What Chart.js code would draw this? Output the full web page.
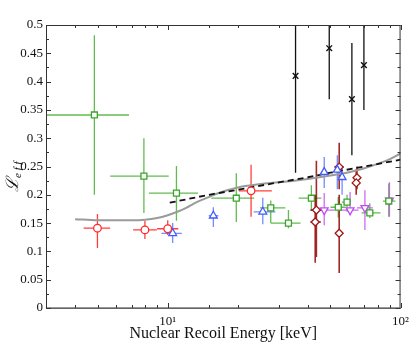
<!DOCTYPE html>
<html>
<head>
<meta charset="utf-8">
<script src="https://cdn.jsdelivr.net/npm/chart.js@4.4.0/dist/chart.umd.min.js"></script>
<style>
  html, body { margin: 0; padding: 0; background: #fff; }
  #wrap { width: 415px; height: 345px; }
</style>
</head>
<body>
<div id="wrap"><canvas id="leff"></canvas></div>
<script>
// green squares
const greenE   = [4.84, 7.9, 10.9, 19.7, 27.7, 33.0, 41.4, 54.0, 58.9, 73.8, 89.0];
const greenL   = [0.341, 0.233, 0.203, 0.194, 0.177, 0.150, 0.194, 0.178, 0.187, 0.168, 0.189];
const greenElo = [2.5, 5.66, 8.3, 15.4, 24.9, 27.7, 36.5, 50, 56, 68, 84];
const greenEhi = [6.82, 10.1, 13.5, 23.5, 32, 37.2, 45.7, 58, 61, 82, 95];
const greenLlo = [0.20, 0.168, 0.154, 0.152, 0.150, 0.141, 0.173, 0.16, 0.17, 0.159, 0.161];
const greenLhi = [0.482, 0.30, 0.251, 0.238, 0.19, 0.173, 0.217, 0.196, 0.2, 0.185, 0.22];

// red circles
const redE   = [4.99, 7.98, 10.0, 22.8];
const redL   = [0.141, 0.138, 0.140, 0.207];
const redElo = [4.35, 7.1, 9.0, 20.2];
const redEhi = [5.66, 8.98, 11.1, 28.0];
const redLlo = [0.106, 0.122, 0.129, 0.161];
const redLhi = [0.166, 0.154, 0.155, 0.253];

// blue triangles
const blueE   = [10.5, 15.7, 25.6, 47.0, 53.5, 56.1];
const blueL   = [0.132, 0.163, 0.170, 0.240, 0.244, 0.231];
const blueElo = [9.4, 15.0, 23.4, 45.5, 52, 55];
const blueEhi = [11.5, 16.5, 29, 48.5, 55, 57.5];
const blueLlo = [0.115, 0.143, 0.148, 0.212, 0.21, 0.20];
const blueLhi = [0.15, 0.178, 0.195, 0.267, 0.27, 0.25];

// dark red diamonds
const dredE   = [43.5, 43.0, 54.5, 54.5, 65.0, 64.5];
const dredL   = [0.173, 0.152, 0.249, 0.132, 0.230, 0.221];
const dredElo = [41, 41, 52, 52.5, 63, 63];
const dredEhi = [46, 45.5, 57, 56.5, 67, 66.5];
const dredLlo = [0.09, 0.08, 0.21, 0.062, 0.21, 0.20];
const dredLhi = [0.26, 0.20, 0.292, 0.20, 0.25, 0.245];

// violet down triangles
const violetE   = [47.0, 60.7, 70.3, 89.6];
const violetL   = [0.173, 0.173, 0.177, 0.19];
const violetElo = [42.5, 55, 65, 86];
const violetEhi = [52, 66, 76, 93];
const violetLlo = [0.146, 0.164, 0.138, 0.161];
const violetLhi = [0.203, 0.205, 0.208, 0.222];

// black crosses
const blackE   = [35.4, 49.4, 61.8, 69.6];
const blackL   = [0.410, 0.459, 0.369, 0.429];
const blackLlo = [0.239, 0.369, 0.270, 0.350];
const blackLhi = [0.55, 0.55, 0.468, 0.55];

// gray model curve
const grayE = [4, 5, 6, 7, 8, 9, 10, 11, 12, 13, 14, 15, 16, 18, 20, 25, 30, 40, 50, 60, 70, 80, 90, 100];
const grayL = [0.157, 0.155, 0.155, 0.155, 0.156, 0.159, 0.164, 0.170, 0.177, 0.185, 0.191, 0.196, 0.201, 0.208, 0.213, 0.219, 0.222, 0.228, 0.234, 0.240, 0.247, 0.255, 0.263, 0.273];

// dashed fit
const dashE = [10.2, 15, 20, 30, 40, 50, 70, 100];
const dashL = [0.186, 0.200, 0.209, 0.222, 0.231, 0.239, 0.250, 0.262];

const yMajor = [0, 0.05, 0.1, 0.15, 0.2, 0.25, 0.3, 0.35, 0.4, 0.45, 0.5];
const xMajor = [10, 100];
const xTickLabels = { 10: '10\u00b9', 100: '10\u00b2' };

function pts(E, L) {
  return E.map((e, i) => ({ x: e, y: L[i] }));
}

function errs(Elo, Ehi, Llo, Lhi) {
  return Elo.map((v, i) => [v, Ehi[i], Llo[i], Lhi[i]]);
}

function series(E, L, err, color, errColor, style, extra) {
  return Object.assign({
    data: pts(E, L),
    err: err,
    errColor: errColor,
    showLine: false,
    pointStyle: style,
    pointRadius: 4,
    pointBorderColor: color,
    pointBackgroundColor: '#fff',
    pointBorderWidth: 1.3,
    order: 1
  }, extra || {});
}

const errorBars = {
  id: 'errorBars',
  beforeDatasetsDraw(chart) {
    const { ctx, chartArea: a, scales: { x, y } } = chart;
    ctx.save();
    ctx.beginPath();
    ctx.rect(a.left, a.top, a.right - a.left, a.bottom - a.top);
    ctx.clip();
    chart.data.datasets.forEach(ds => {
      if (!ds.err) return;
      ctx.strokeStyle = ds.errColor;
      ctx.lineWidth = ds.errWidth || 1.3;
      ds.data.forEach((p, i) => {
        const e = ds.err[i];
        const px = x.getPixelForValue(p.x), py = y.getPixelForValue(p.y);
        ctx.beginPath();
        if (e[0] !== e[1]) {
          ctx.moveTo(x.getPixelForValue(e[0]), py);
          ctx.lineTo(x.getPixelForValue(e[1]), py);
        }
        ctx.moveTo(px, y.getPixelForValue(e[2]));
        ctx.lineTo(px, y.getPixelForValue(e[3]));
        ctx.stroke();
      });
    });
    ctx.restore();
  }
};

const frame = {
  id: 'frame',
  afterDraw(chart) {
    const { ctx, chartArea: a, scales: { x, y } } = chart;
    ctx.save();
    ctx.strokeStyle = '#333';
    ctx.lineWidth = 1;
    ctx.strokeRect(a.left + 0.5, a.top + 0.5, a.right - a.left - 1, a.bottom - a.top);
    ctx.strokeStyle = '#777';
    ctx.lineWidth = 1.6;
    ctx.beginPath();
    ctx.moveTo(a.left, a.bottom);
    ctx.lineTo(a.right, a.bottom);
    ctx.stroke();

    ctx.strokeStyle = '#333';
    ctx.lineWidth = 1;
    ctx.beginPath();
    // y ticks, both sides, inward
    for (let v = 0; v <= 0.5001; v += 0.025) {
      const py = Math.round(y.getPixelForValue(v)) + 0.5;
      const major = Math.abs(v / 0.05 - Math.round(v / 0.05)) < 1e-6;
      const len = major ? 5 : 3;
      ctx.moveTo(a.left, py); ctx.lineTo(a.left + len, py);
      ctx.moveTo(a.right, py); ctx.lineTo(a.right - len, py);
    }
    // x ticks, both sides, inward
    x.ticks.forEach(t => {
      const px = Math.round(x.getPixelForValue(t.value)) + 0.5;
      const len = xMajor.includes(t.value) ? 5 : 3;
      ctx.moveTo(px, a.bottom); ctx.lineTo(px, a.bottom - len);
      ctx.moveTo(px, a.top); ctx.lineTo(px, a.top + len);
    });
    ctx.stroke();

    // y title: script L with subscript eff
    ctx.translate(13, 176);
    ctx.rotate(-Math.PI / 2);
    ctx.fillStyle = '#111';
    ctx.textBaseline = 'alphabetic';
    ctx.textAlign = 'left';
    ctx.font = 'italic 17px "DejaVu Serif"';
    const w = ctx.measureText('\u2112').width;
    ctx.fillText('\u2112', -16, 5);
    ctx.font = 'italic 11px "Liberation Serif"';
    ctx.fillText('e f f', -16 + w, 8);
    ctx.restore();
  }
};

new Chart(document.getElementById('leff'), {
  type: 'scatter',
  data: {
    datasets: [
      series(blackE, blackL, errs(blackE, blackE, blackLlo, blackLhi), '#111', '#111', 'crossRot', { pointBorderWidth: 1.4, pointRadius: 4 }),
      series(greenE, greenL, errs(greenElo, greenEhi, greenLlo, greenLhi), '#3aa52a', 'rgba(70,175,50,0.85)', 'rect', { pointRadius: 4.2 }),
      series(redE, redL, errs(redElo, redEhi, redLlo, redLhi), '#ff2a2a', 'rgba(255,40,40,0.9)', 'circle', { pointRadius: 3.8 }),
      series(blueE, blueL, errs(blueElo, blueEhi, blueLlo, blueLhi), '#3f5cff', 'rgba(80,110,255,0.8)', 'triangle', { pointRadius: 4.5 }),
      series(violetE, violetL, errs(violetElo, violetEhi, violetLlo, violetLhi), '#c04cf0', 'rgba(195,80,240,0.85)', 'triangle', { pointRadius: 4.5, rotation: 180 }),
      series(dredE, dredL, errs(dredElo, dredEhi, dredLlo, dredLhi), '#a01818', 'rgba(150,20,20,0.9)', 'rectRot', { pointRadius: 4, errWidth: 1.6 }),
      {
        type: 'line',
        data: pts(dashE, dashL),
        borderColor: '#111',
        borderWidth: 1.8,
        borderDash: [6, 4],
        pointRadius: 0,
        fill: false,
        order: 5
      },
      {
        type: 'line',
        data: pts(grayE, grayL),
        borderColor: '#9a9a9a',
        borderWidth: 2,
        pointRadius: 0,
        cubicInterpolationMode: 'monotone',
        fill: false,
        order: 6
      }
    ]
  },
  options: {
    responsive: true,
    maintainAspectRatio: false,
    animation: false,
    layout: { padding: { top: 25, right: 12, left: 0, bottom: 0 } },
    plugins: { legend: { display: false }, tooltip: { enabled: false } },
    scales: {
      x: {
        type: 'logarithmic',
        min: 3,
        max: 100,
        border: { display: false },
        grid: { display: false, drawTicks: false },
        ticks: {
          autoSkip: false,
          maxRotation: 0,
          padding: 6,
          color: '#111',
          font: { family: '"Liberation Serif"', size: 13 },
          callback: v => xTickLabels[v] || ''
        },
        title: {
          display: true,
          text: 'Nuclear Recoil Energy [keV]',
          color: '#111',
          font: { family: '"Liberation Serif"', size: 16 },
          padding: { top: 0, bottom: 2 }
        },
        afterFit: s => { s.height = 37; }
      },
      y: {
        min: 0,
        max: 0.5,
        border: { display: false },
        grid: { display: false, drawTicks: false },
        afterBuildTicks: s => { s.ticks = yMajor.map(v => ({ value: v })); },
        ticks: {
          padding: 3,
          color: '#111',
          font: { family: '"Liberation Serif"', size: 13 },
          callback: v => String(+v.toFixed(3))
        },
        afterFit: s => { s.width = 46; }
      }
    }
  },
  plugins: [errorBars, frame]
});
</script>
</body>
</html>
